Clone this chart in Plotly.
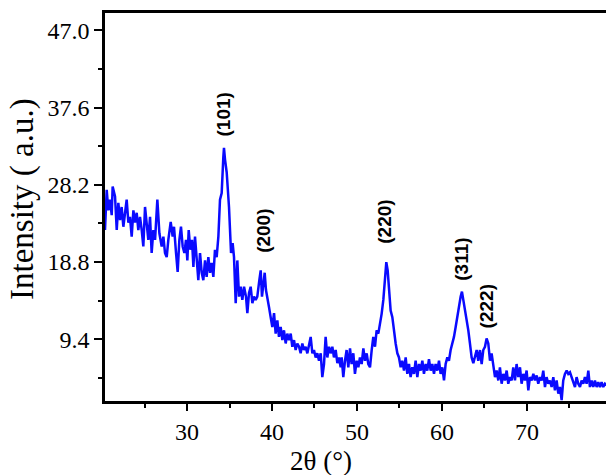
import plotly.graph_objects as go

two_theta = [
    20.35, 20.55, 20.74, 20.94, 21.14, 21.25, 21.53, 21.73, 21.92, 22.12,
    22.31, 22.51, 22.71, 22.90, 23.10, 23.29, 23.49, 23.69, 23.88, 24.08,
    24.27, 24.47, 24.67, 24.86, 25.06, 25.25, 25.45, 25.65, 25.84, 26.04,
    26.24, 26.51, 26.75, 27.02, 27.22, 27.41, 27.61, 27.80, 28.08, 28.31,
    28.47, 28.71, 28.90, 29.10, 29.29, 29.49, 29.69, 29.88, 30.04, 30.20,
    30.39, 30.59, 30.75, 30.94, 31.14, 31.33, 31.53, 31.73, 31.92, 32.12,
    32.31, 32.51, 32.71, 32.90, 33.10, 33.29, 33.49, 33.69, 33.88, 34.08,
    34.27, 34.35, 34.47, 34.67, 34.94, 35.18, 35.37, 35.53, 35.73, 35.92,
    36.12, 36.31, 36.51, 36.71, 36.94, 37.10, 37.29, 37.49, 37.69, 37.88,
    38.08, 38.27, 38.51, 38.67, 38.82, 38.98, 39.14, 39.29, 39.45, 39.65,
    39.84, 40.04, 40.24, 40.43, 40.63, 40.82, 41.02, 41.22, 41.41, 41.61,
    41.80, 42.00, 42.20, 42.39, 42.59, 42.78, 42.98, 43.18, 43.37, 43.57,
    43.76, 43.96, 44.16, 44.35, 44.55, 44.75, 44.94, 45.14, 45.33, 45.53,
    45.73, 45.92, 46.12, 46.31, 46.51, 46.71, 46.90, 47.10, 47.29, 47.49,
    47.69, 47.88, 48.08, 48.20, 48.39, 48.59, 48.78, 48.98, 49.18, 49.37,
    49.57, 49.76, 49.96, 50.16, 50.35, 50.55, 50.75, 50.94, 51.14, 51.33,
    51.53, 51.73, 51.92, 52.12, 52.31, 52.51, 52.71, 52.90, 53.10, 53.29,
    53.45, 53.61, 53.80, 53.96, 54.16, 54.35, 54.55, 54.75, 54.94, 55.14,
    55.33, 55.53, 55.73, 55.92, 56.12, 56.31, 56.51, 56.71, 56.90, 57.10,
    57.29, 57.49, 57.69, 57.88, 58.08, 58.27, 58.47, 58.67, 58.86, 59.06,
    59.25, 59.45, 59.65, 59.84, 60.04, 60.24, 60.43, 60.63, 60.82, 61.02,
    61.22, 61.41, 61.61, 61.80, 62.00, 62.20, 62.35, 62.51, 62.71, 62.90,
    63.10, 63.29, 63.49, 63.69, 63.88, 64.08, 64.27, 64.47, 64.67, 64.86,
    65.06, 65.25, 65.45, 65.65, 65.84, 66.04, 66.24, 66.43, 66.63, 66.82,
    67.02, 67.22, 67.41, 67.61, 67.80, 68.00, 68.20, 68.39, 68.59, 68.78,
    68.98, 69.18, 69.37, 69.57, 69.76, 69.96, 70.16, 70.35, 70.55, 70.75,
    70.94, 71.14, 71.33, 71.53, 71.73, 71.92, 72.12, 72.31, 72.51, 72.71,
    72.90, 73.10, 73.29, 73.49, 73.69, 73.88, 74.08, 74.27, 74.47, 74.67,
    74.86, 75.06, 75.25, 75.45, 75.65, 75.84, 76.04, 76.24, 76.43, 76.63,
    76.82, 77.02, 77.22, 77.41, 77.61, 77.80, 78.00, 78.20, 78.39, 78.59,
    78.78, 78.98, 79.18, 79.40,
]

intensity = [
    22.7, 27.6, 25.1, 26.4, 24.5, 28.0, 26.8, 22.7, 26.0, 23.9,
    25.5, 23.1, 24.8, 26.4, 23.6, 24.3, 21.9, 25.1, 23.6, 24.8,
    22.7, 24.3, 22.7, 20.7, 25.5, 23.6, 21.5, 24.3, 19.9, 22.7,
    21.5, 26.4, 22.3, 20.7, 21.9, 19.9, 19.4, 21.5, 23.7, 21.9,
    23.1, 19.9, 17.6, 21.5, 23.1, 20.7, 19.9, 21.5, 19.0, 22.7,
    20.3, 21.5, 18.2, 21.9, 19.0, 16.6, 19.9, 17.5, 16.6, 19.0,
    17.0, 19.4, 17.5, 18.7, 17.0, 20.3, 19.4, 21.9, 26.4, 27.2,
    31.5, 32.7, 31.3, 29.7, 25.5, 19.9, 21.1, 19.4, 13.8, 19.0,
    14.6, 15.8, 14.2, 15.8, 14.6, 12.6, 15.0, 15.8, 13.8, 14.6,
    14.2, 14.6, 16.6, 17.8, 14.6, 16.2, 17.5, 15.4, 14.6, 13.3,
    12.1, 10.9, 12.6, 10.1, 11.7, 9.7, 10.9, 9.3, 10.5, 8.9,
    10.1, 9.3, 10.1, 8.5, 9.3, 8.1, 8.9, 8.5, 7.7, 8.9,
    8.1, 8.5, 7.7, 8.5, 9.7, 7.7, 8.1, 7.2, 7.7, 6.8,
    7.7, 4.8, 6.4, 9.7, 7.2, 8.5, 7.7, 8.5, 7.2, 8.1,
    6.5, 7.2, 6.0, 7.2, 4.8, 6.8, 8.1, 6.0, 8.3, 6.4,
    7.7, 5.2, 6.8, 6.0, 7.2, 6.4, 8.3, 6.8, 7.7, 6.4,
    6.0, 8.1, 9.7, 8.5, 10.5, 10.1, 11.3, 12.5, 14.2, 16.2,
    18.8, 17.8, 15.0, 12.9, 12.1, 10.1, 8.9, 7.7, 7.2, 6.0,
    6.8, 5.6, 7.2, 5.2, 6.4, 4.8, 6.0, 5.2, 6.8, 4.8,
    6.4, 5.6, 6.8, 5.2, 6.4, 5.6, 7.0, 5.6, 6.4, 5.2,
    6.4, 5.6, 6.8, 5.2, 6.0, 4.4, 6.4, 7.2, 6.8, 8.1,
    8.9, 9.7, 10.9, 12.1, 13.8, 14.6, 15.2, 14.2, 12.9, 12.1,
    10.5, 8.9, 7.2, 6.5, 7.5, 8.1, 6.8, 8.1, 6.4, 8.1,
    8.5, 9.5, 8.9, 6.8, 7.7, 6.0, 4.8, 5.6, 4.4, 6.0,
    4.0, 5.2, 4.4, 5.6, 4.0, 4.8, 4.4, 6.0, 4.4, 6.4,
    4.8, 6.0, 4.0, 5.2, 4.4, 5.6, 3.2, 4.8, 4.4, 5.2,
    4.4, 5.0, 4.0, 4.8, 4.4, 5.6, 3.6, 4.8, 4.0, 4.4,
    3.6, 4.8, 3.2, 4.4, 2.8, 3.6, 2.0, 4.4, 5.2, 5.6,
    5.2, 5.4, 4.8, 4.4, 3.6, 4.8, 4.0, 3.6, 4.4, 4.0,
    4.8, 4.0, 5.6, 3.6, 4.4, 3.6, 4.4, 3.6, 4.2, 3.6,
    4.2, 3.6, 4.0, 3.8,
]

peak_labels = ["(101)", "(200)", "(220)", "(311)", "(222)"]
peak_x = [34.35, 39.06, 53.29, 62.35, 65.29]
peak_y = [36.75, 22.6, 23.7, 19.2, 13.4]

y_tick_vals = [9.4, 18.8, 28.2, 37.6, 47.0]
x_tick_vals = [30, 40, 50, 60, 70]

x_title = "2θ (°)"
y_title = "Intensity ( a.u.)"

fig = go.Figure()
fig.add_trace(go.Scatter(
    x=two_theta, y=intensity, mode="lines",
    line=dict(color="rgb(10,10,255)", width=2.5),
    showlegend=False, hoverinfo="skip",
))

for lab, px, py in zip(peak_labels, peak_x, peak_y):
    fig.add_annotation(
        x=px, y=py, text=lab, showarrow=False, textangle=-90,
        font=dict(family="Liberation Sans", size=19, color="black", weight="bold"),
        xanchor="center", yanchor="middle",
    )

serif = "Liberation Serif"
fig.add_annotation(
    xref="paper", yref="paper", x=0.431, y=-0.1546, text=x_title,
    showarrow=False, xanchor="center", yanchor="middle",
    font=dict(family=serif, size=27, color="black"),
)
fig.add_annotation(
    xref="paper", yref="paper", x=-0.1657, y=0.5206, text=y_title,
    showarrow=False, xanchor="center", yanchor="middle", textangle=-90,
    font=dict(family=serif, size=33, color="black"),
)

fig.update_layout(
    width=606, height=475,
    margin=dict(l=105, r=0, t=13, b=74, autoexpand=False),
    paper_bgcolor="white", plot_bgcolor="white",
    font=dict(family=serif, color="black"),
    xaxis=dict(
        range=[20.35, 79.3], tickvals=x_tick_vals,
        showline=True, linecolor="black", linewidth=2.5, mirror=True,
        ticks="outside", ticklen=7, tickwidth=2, tickcolor="black",
        minor=dict(ticks="outside", ticklen=4, tickwidth=2, tickcolor="black", dtick=5, tick0=0),
        showgrid=False, zeroline=False,
        tickfont=dict(family=serif, size=24, color="black"),
    ),
    yaxis=dict(
        range=[1.9, 49.1], tickvals=y_tick_vals, tickformat=".1f",
        showline=True, linecolor="black", linewidth=2.5, mirror=False,
        ticks="outside", ticklen=8, tickwidth=2, tickcolor="black",
        minor=dict(ticks="outside", ticklen=4, tickwidth=2, tickcolor="black", dtick=4.7, tick0=0),
        showgrid=False, zeroline=False,
        tickfont=dict(family=serif, size=24, color="black"),
    ),
)

fig.write_html(
    "out.html",
    config={"displayModeBar": False},
    post_script="document.body.style.margin='0';document.body.style.overflow='hidden';",
)
